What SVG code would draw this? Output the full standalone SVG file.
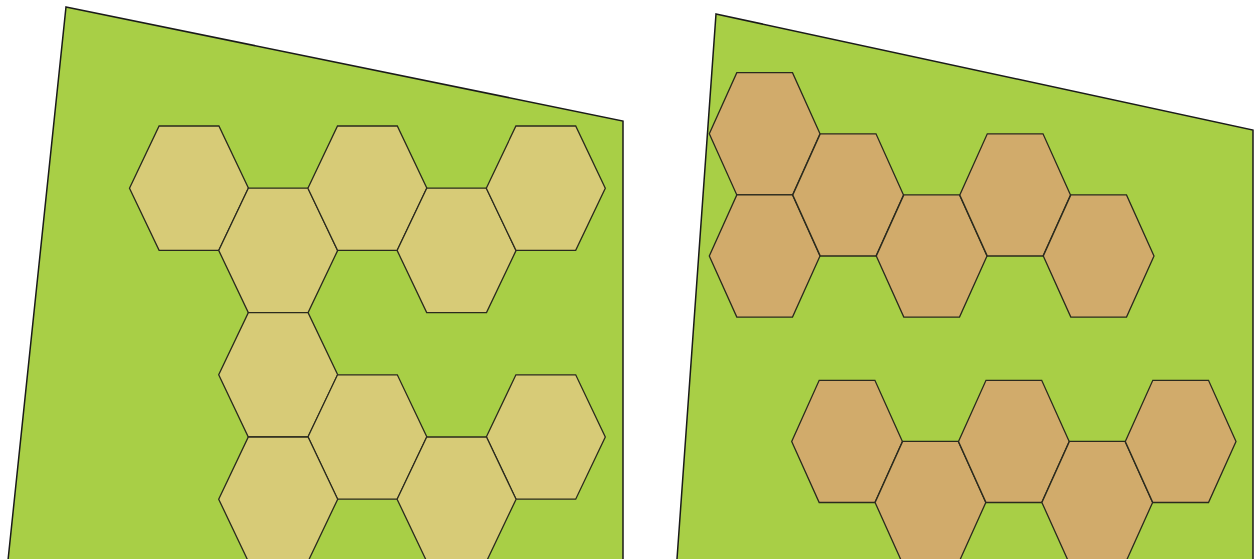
<svg xmlns="http://www.w3.org/2000/svg" xmlns:xlink="http://www.w3.org/1999/xlink" width="1254" height="559" viewBox="0 0 1254 559">
<style>
.panel{fill:#a8cf46;stroke:#1a1a1a;stroke-width:1.5;stroke-linejoin:miter}
.hexA{fill:#d7cb77;stroke:#2a2a1e;stroke-width:1.3}
.hexB{fill:#d1ab6b;stroke:#2a2a1e;stroke-width:1.3}
</style>
<defs>
<polygon id="hA" points="29.6,0 89.4,0 119,62.2 89.4,124.4 29.6,124.4 0,62.2"/>
<polygon id="hB" points="27.5,0 83.2,0 110.7,61.1 83.2,122.2 27.5,122.2 0,61.1"/>
</defs>
<rect width="1254" height="559" fill="#ffffff"/>
<g id="panel-left">
<polygon class="panel" points="66,7 623,121 623,566 7.4,566"/>
</g>
<g id="panel-right">
<polygon class="panel" points="716,14 1253,130 1253,566 676.5,566"/>
</g>
<g id="left-hexes">
<g id="L1"><use href="#hA" class="hexA" x="129.5" y="126"/></g>
<g id="L2"><use href="#hA" class="hexA" x="218.7" y="188.2"/></g>
<g id="L3"><use href="#hA" class="hexA" x="307.9" y="126"/></g>
<g id="L4"><use href="#hA" class="hexA" x="397.1" y="188.2"/></g>
<g id="L5"><use href="#hA" class="hexA" x="486.3" y="126"/></g>
<g id="L6"><use href="#hA" class="hexA" x="218.7" y="312.6"/></g>
<g id="L7"><use href="#hA" class="hexA" x="307.9" y="374.8"/></g>
<g id="L8"><use href="#hA" class="hexA" x="486.3" y="374.8"/></g>
<g id="L9"><use href="#hA" class="hexA" x="218.7" y="437"/></g>
<g id="L10"><use href="#hA" class="hexA" x="397.1" y="437"/></g>
</g>
<g id="right-hexes">
<g id="R1"><use href="#hB" class="hexB" x="709.3" y="72.7"/></g>
<g id="R2"><use href="#hB" class="hexB" x="709.3" y="194.9"/></g>
<g id="R3"><use href="#hB" class="hexB" x="792.8" y="133.8"/></g>
<g id="R4"><use href="#hB" class="hexB" x="876.3" y="194.9"/></g>
<g id="R5"><use href="#hB" class="hexB" x="959.8" y="133.8"/></g>
<g id="R6"><use href="#hB" class="hexB" x="1043.3" y="194.9"/></g>
<g id="R7"><use href="#hB" class="hexB" x="791.7" y="380.3"/></g>
<g id="R8"><use href="#hB" class="hexB" x="875.1" y="441.4"/></g>
<g id="R9"><use href="#hB" class="hexB" x="958.5" y="380.3"/></g>
<g id="R10"><use href="#hB" class="hexB" x="1041.9" y="441.4"/></g>
<g id="R11"><use href="#hB" class="hexB" x="1125.3" y="380.3"/></g>
</g>
<g id="connectors"/>
</svg>
